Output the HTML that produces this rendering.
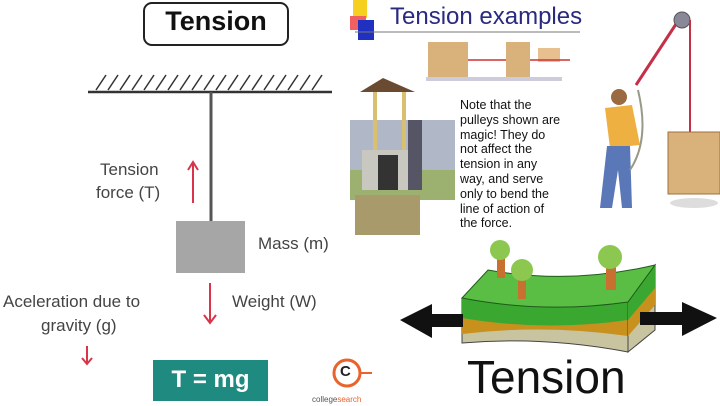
<!DOCTYPE html>
<html><head><style>
body{margin:0;width:720px;height:406px;overflow:hidden;background:#fff;font-family:"Liberation Sans",sans-serif;position:relative}
.a{position:absolute;white-space:nowrap}
.g{color:#444;font-size:17px}
</style></head><body>
<svg width="720" height="406" style="position:absolute;left:0;top:0">
<rect x="144" y="3" width="144" height="42" rx="8" fill="#fff" stroke="#222" stroke-width="2"/>
<line x1="88" y1="92" x2="332" y2="92" stroke="#333" stroke-width="2.5"/>
<g stroke="#333" stroke-width="1.5">
<line x1="96" y1="90" x2="106" y2="75"/><line x1="108" y1="90" x2="118" y2="75"/><line x1="120" y1="90" x2="130" y2="75"/><line x1="132" y1="90" x2="142" y2="75"/><line x1="144" y1="90" x2="154" y2="75"/><line x1="156" y1="90" x2="166" y2="75"/><line x1="168" y1="90" x2="178" y2="75"/><line x1="180" y1="90" x2="190" y2="75"/><line x1="192" y1="90" x2="202" y2="75"/><line x1="204" y1="90" x2="214" y2="75"/><line x1="216" y1="90" x2="226" y2="75"/><line x1="228" y1="90" x2="238" y2="75"/><line x1="240" y1="90" x2="250" y2="75"/><line x1="252" y1="90" x2="262" y2="75"/><line x1="264" y1="90" x2="274" y2="75"/><line x1="276" y1="90" x2="286" y2="75"/><line x1="288" y1="90" x2="298" y2="75"/><line x1="300" y1="90" x2="310" y2="75"/><line x1="312" y1="90" x2="322" y2="75"/>
</g>
<line x1="211" y1="92" x2="211" y2="222" stroke="#555" stroke-width="3"/>
<rect x="176" y="221" width="69" height="52" fill="#a6a6a6"/>
<g stroke="#d9344a" stroke-width="2" fill="none">
<line x1="193" y1="163" x2="193" y2="203"/><polyline points="188,170 193,162 198,170"/>
<line x1="210" y1="283" x2="210" y2="323"/><polyline points="204,315 210,323 216,315"/>
<line x1="87" y1="346" x2="87" y2="364"/><polyline points="82,358 87,364 92,358"/>
</g>
<rect x="153" y="360" width="115" height="41" fill="#1f8a80"/>
<circle cx="347" cy="373" r="13" fill="none" stroke="#e8642c" stroke-width="3"/>
<line x1="360" y1="373" x2="372" y2="373" stroke="#e8642c" stroke-width="2"/>
<rect x="353" y="0" width="14" height="18" fill="#f5d020"/>
<rect x="350" y="16" width="16" height="14" fill="#f06060"/>
<rect x="358" y="20" width="16" height="20" fill="#2030c0"/>
<line x1="355" y1="32" x2="580" y2="32" stroke="#777" stroke-width="1"/>
<rect x="428" y="42" width="40" height="35" fill="#d8b27a"/>
<rect x="506" y="42" width="24" height="35" fill="#d8b27a"/>
<rect x="538" y="48" width="22" height="14" fill="#e8c090"/>
<line x1="468" y1="60" x2="506" y2="60" stroke="#c33" stroke-width="1.5"/>
<line x1="530" y1="60" x2="570" y2="60" stroke="#c33" stroke-width="1.5"/>
<rect x="426" y="77" width="136" height="4" fill="#ccd"/>
<rect x="350" y="120" width="105" height="60" fill="#b0b8c8"/>
<rect x="350" y="170" width="105" height="30" fill="#9cb070"/>
<rect x="355" y="195" width="65" height="40" fill="#a89a6a"/>
<polygon points="360,92 383,78 415,92" fill="#6a4a30"/>
<rect x="373" y="92" width="4" height="70" fill="#d8c070"/>
<rect x="402" y="92" width="4" height="70" fill="#d8c070"/>
<rect x="362" y="150" width="58" height="40" fill="#c8c8c0"/>
<rect x="378" y="155" width="20" height="35" fill="#333"/>
<rect x="408" y="120" width="14" height="70" fill="#556"/>
<line x1="636" y1="85" x2="680" y2="18" stroke="#c43048" stroke-width="3"/>
<circle cx="682" cy="20" r="8" fill="#889" stroke="#555"/>
<line x1="690" y1="20" x2="690" y2="135" stroke="#c43048" stroke-width="2"/>
<circle cx="619" cy="97" r="8" fill="#9a6a40"/>
<polygon points="605,108 632,105 640,145 610,148" fill="#eeb040"/>
<polygon points="607,146 630,146 632,208 622,208 618,170 612,208 600,208" fill="#5a78b8"/>
<path d="M638,90 Q650,140 630,170" stroke="#998" stroke-width="2" fill="none"/>
<rect x="668" y="132" width="52" height="62" fill="#d8b27a" stroke="#a07040"/>
<ellipse cx="694" cy="203" rx="24" ry="5" fill="#ddd"/>
<!-- earth block -->
<path d="M462,298 Q545,314 628,302 L628,352 Q545,336 462,343 Z" fill="#c8c4a0" stroke="#444" stroke-width="1"/>
<path d="M462,317 Q545,330 628,320 L628,336 Q545,324 462,334 Z" fill="#c8901c"/>
<path d="M462,298 Q545,314 628,302 L628,320 Q545,332 462,318 Z" fill="#3aa830"/>
<path d="M628,302 L655,265 L655,330 L628,352 Z" fill="#c8c4a0" stroke="#444" stroke-width="1"/>
<path d="M628,302 L655,265 L655,290 L628,322 Z" fill="#3aa830"/>
<path d="M628,320 L655,288 L655,305 L628,336 Z" fill="#c8901c"/>
<path d="M462,298 L488,270 Q570,285 655,265 L628,302 Q545,314 462,298 Z" fill="#5abe45" stroke="#1f5a1a" stroke-width="1"/>
<rect x="497" y="248" width="8" height="30" fill="#c87030"/>
<circle cx="500" cy="250" r="10" fill="#8cc850"/>
<rect x="518" y="275" width="8" height="24" fill="#c87030"/>
<circle cx="522" cy="270" r="11" fill="#8cc850"/>
<rect x="606" y="262" width="10" height="28" fill="#c87030"/>
<circle cx="610" cy="257" r="12" fill="#8cc850"/>
<rect x="430" y="314" width="33" height="13" fill="#111"/>
<polygon points="400,320 432,304 432,338" fill="#111"/>
<rect x="640" y="312" width="50" height="13" fill="#111"/>
<polygon points="717,318 682,302 682,336" fill="#111"/>
</svg>
<div class="a" style="left:144px;top:6px;width:144px;text-align:center;font-size:27px;font-weight:bold;color:#111">Tension</div>
<div class="a g" style="left:100px;top:160px">Tension</div>
<div class="a g" style="left:96px;top:183px">force (T)</div>
<div class="a g" style="left:258px;top:234px">Mass (m)</div>
<div class="a g" style="left:232px;top:292px">Weight (W)</div>
<div class="a g" style="left:3px;top:292px">Aceleration due to</div>
<div class="a g" style="left:41px;top:316px">gravity (g)</div>
<div class="a" style="left:153px;top:366px;width:115px;text-align:center;font-size:24px;font-weight:bold;color:#fff">T = mg</div>
<div class="a" style="left:340px;top:363px;font-size:15px;font-weight:bold;color:#222">C</div>
<div class="a" style="left:312px;top:395px;font-size:8px;color:#555">college<span style="color:#e8642c">search</span></div>
<div class="a" style="left:390px;top:3px;font-size:24px;color:#2a2a80">Tension examples</div>
<div class="a" style="left:460px;top:98px;font-size:12.5px;line-height:14.8px;color:#111">Note that the<br>pulleys shown are<br>magic! They do<br>not affect the<br>tension in any<br>way, and serve<br>only to bend the<br>line of action of<br>the force.</div>
<div class="a" style="left:467px;top:350px;font-size:46px;color:#111">Tension</div>
</body></html>
